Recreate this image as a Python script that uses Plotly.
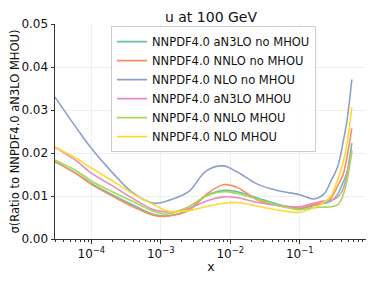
import numpy as np
import plotly.graph_objects as go

# log10(x) sample points
log_x = [-4.523, -4.2, -4.0, -3.7, -3.4, -3.1, -2.9, -2.6, -2.35, -2.1, -1.9,
         -1.6, -1.3, -1.0, -0.8, -0.65, -0.55, -0.45, -0.38, -0.32, -0.25]

an3lo_no_mhou = [0.0180, 0.0151, 0.0129, 0.0103, 0.0079, 0.0057, 0.0054, 0.0068, 0.0100, 0.0113, 0.0110,
                 0.0095, 0.0080, 0.0070, 0.0078, 0.0083, 0.0088, 0.0105, 0.0130, 0.0155, 0.0223]
nnlo_no_mhou = [0.0180, 0.0150, 0.0127, 0.0100, 0.0075, 0.0055, 0.0053, 0.0066, 0.0103, 0.0126, 0.0120,
                0.0090, 0.0077, 0.0072, 0.0080, 0.0085, 0.0095, 0.0125, 0.0148, 0.0190, 0.0257]
nlo_no_mhou = [0.0330, 0.0255, 0.0211, 0.0155, 0.0107, 0.0083, 0.0089, 0.0110, 0.0158, 0.0170, 0.0156,
               0.0127, 0.0112, 0.0103, 0.0093, 0.0105, 0.0135, 0.0170, 0.0222, 0.0275, 0.0371]
an3lo_mhou = [0.0213, 0.0180, 0.0153, 0.0124, 0.0094, 0.0068, 0.0063, 0.0071, 0.0088, 0.0098, 0.0096,
              0.0085, 0.0078, 0.0075, 0.0083, 0.0088, 0.0090, 0.0098, 0.0114, 0.0150, 0.0207]
nnlo_mhou = [0.0184, 0.0157, 0.0135, 0.0110, 0.0087, 0.0064, 0.0058, 0.0075, 0.0100, 0.0110, 0.0106,
             0.0092, 0.0078, 0.0068, 0.0073, 0.0074, 0.0075, 0.0080, 0.0100, 0.0135, 0.0203]
nlo_mhou = [0.0214, 0.0186, 0.0165, 0.0136, 0.0105, 0.0080, 0.0065, 0.0066, 0.0075, 0.0083, 0.0085,
            0.0076, 0.0067, 0.0062, 0.0072, 0.0085, 0.0100, 0.0140, 0.0175, 0.0222, 0.0306]

series_names = ["NNPDF4.0 aN3LO no MHOU", "NNPDF4.0 NNLO no MHOU", "NNPDF4.0 NLO no MHOU",
                "NNPDF4.0 aN3LO MHOU", "NNPDF4.0 NNLO MHOU", "NNPDF4.0 NLO MHOU"]
series_values = [an3lo_no_mhou, nnlo_no_mhou, nlo_no_mhou, an3lo_mhou, nnlo_mhou, nlo_mhou]
colors = ["#66c2a5", "#fc8d62", "#8da0cb", "#e78ac3", "#a6d854", "#ffd92f"]

y_ticks = [0.00, 0.01, 0.02, 0.03, 0.04, 0.05]
y_ticklabels = ["0.00", "0.01", "0.02", "0.03", "0.04", "0.05"]
x_ticks = [1e-4, 1e-3, 1e-2, 1e-1]
x_ticklabels = ["10<sup>−4</sup>", "10<sup>−3</sup>", "10<sup>−2</sup>", "10<sup>−1</sup>"]

x_vals = [10 ** v for v in log_x]

fig = go.Figure()
for name, vals, c in zip(series_names, series_values, colors):
    fig.add_trace(go.Scatter(x=x_vals, y=vals, mode="lines", name=name,
                             line=dict(color=c, width=1.6, shape="spline", smoothing=1.0)))

minor_vals = [m * 10 ** e for e in range(-5, 1) for m in range(2, 10)]
minor_vals = [v for v in minor_vals if 3e-5 <= v <= 0.93]

# the page body keeps its default 8px margin, so the figure is sized to fill the rest of the window
W, H = 366, 273
fig.update_layout(
    width=W, height=H,
    margin=dict(l=47, r=7, t=16, b=42, autoexpand=False),
    paper_bgcolor="white", plot_bgcolor="white",
    font=dict(family="DejaVu Sans", size=12, color="#111"),
    title=dict(text="u at 100 GeV", x=(47 + 312 / 2) / W, xanchor="center",
               y=1 - 8.7 / H, yanchor="middle", font=dict(size=14), automargin=False),
    showlegend=True,
    legend=dict(x=(111 - 55) / 312, y=0.99, xanchor="left", yanchor="top",
                bgcolor="rgba(255,255,255,0.85)", bordercolor="#cccccc", borderwidth=1,
                font=dict(size=11.5), tracegroupgap=0, itemwidth=30),
    xaxis=dict(type="log", range=[np.log10(3e-5), np.log10(0.93)],
               tickvals=x_ticks, ticktext=x_ticklabels, tickfont=dict(size=12),
               showgrid=True, gridcolor="#efefef", gridwidth=1,
               showline=True, linecolor="#333", linewidth=1,
               ticks="outside", ticklen=3.5, tickcolor="#333", automargin=False,
               minor=dict(tickvals=minor_vals, ticks="outside", ticklen=2, tickcolor="#333", showgrid=False),
               title=dict(text="x", font=dict(size=12.5), standoff=2),
               zeroline=False),
    yaxis=dict(range=[0, 0.05], tickvals=y_ticks, ticktext=y_ticklabels, tickfont=dict(size=12),
               showgrid=True, gridcolor="#efefef", gridwidth=1,
               showline=True, linecolor="#333", linewidth=1,
               ticks="outside", ticklen=3.5, tickcolor="#333", automargin=False,
               title=dict(text="σ(Ratio to NNPDF4.0 aN3LO MHOU)", font=dict(size=11.5), standoff=4),
               zeroline=False),
)

fig.write_html("out.html")
